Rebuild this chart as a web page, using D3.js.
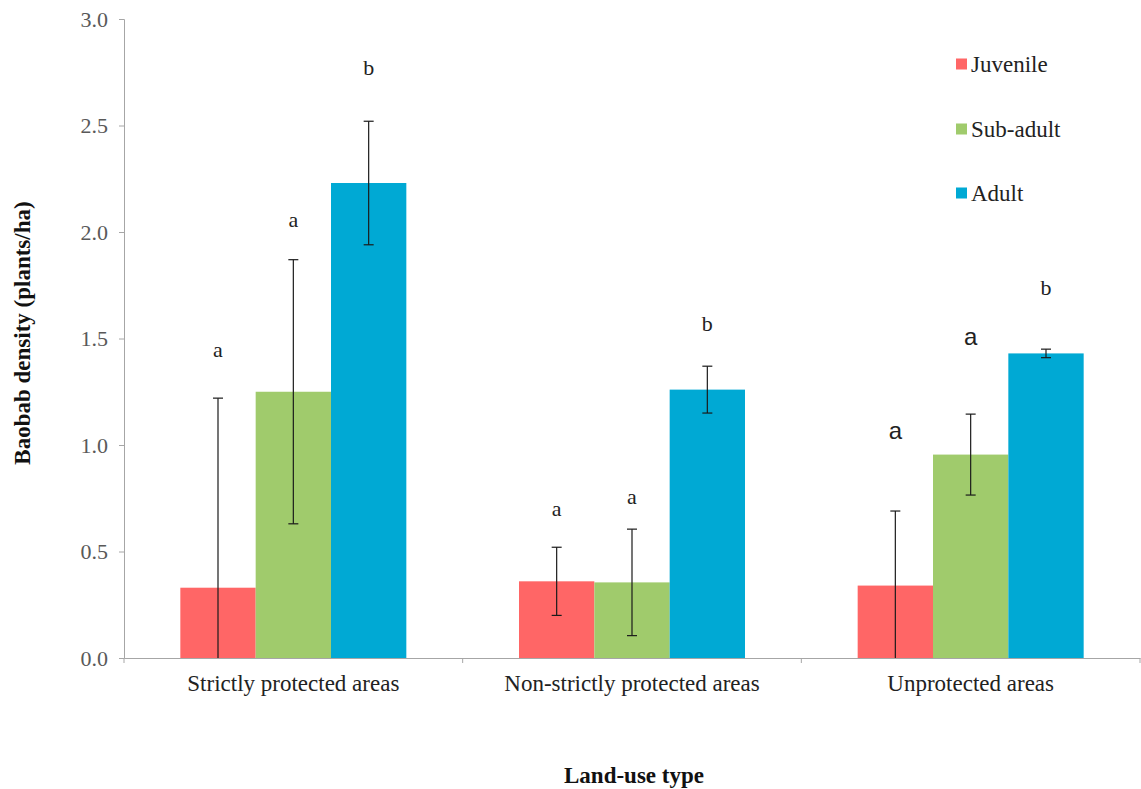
<!DOCTYPE html>
<html><head><meta charset="utf-8">
<script src="https://cdn.jsdelivr.net/npm/d3@7"></script>
<style>body{margin:0;background:#fff}svg{display:block}</style>
</head><body>
<svg id="c" width="1141" height="789"></svg>
<script>
const categories = ["Strictly protected areas", "Non-strictly protected areas", "Unprotected areas"];
const seriesNames = ["Juvenile", "Sub-adult", "Adult"];
const juvenile = [0.33, 0.36, 0.34];
const subAdult = [1.25, 0.355, 0.955];
const adult = [2.23, 1.26, 1.43];
const juvenileErr = [0.89, 0.16, 0.35];
const subAdultErr = [0.62, 0.25, 0.19];
const adultErr = [0.29, 0.11, 0.02];
const juvenileLetters = ["a", "a", "a"];
const subAdultLetters = ["a", "a", "a"];
const adultLetters = ["b", "b", "b"];
const juvenileLetterY = [1.45, 0.70, 1.07];
const subAdultLetterY = [2.06, 0.76, 1.51];
const adultLetterY = [2.77, 1.57, 1.74];
const yTicks = [0, 0.5, 1.0, 1.5, 2.0, 2.5, 3.0];
const colors = ["#FF6666", "#A0CB6C", "#00A9D4"];

const values = [juvenile, subAdult, adult];
const errs = [juvenileErr, subAdultErr, adultErr];
const letters = [juvenileLetters, subAdultLetters, adultLetters];
const letterY = [juvenileLetterY, subAdultLetterY, adultLetterY];

(function () {
const svg = d3.select("#c");
const mLeft = 124, mRight = 1140, mTop = 19, mBottom = 658;
const serif = "'Liberation Serif','Times New Roman',serif";

const x = d3.scaleBand().domain(categories).range([mLeft, mRight]).paddingInner(0).paddingOuter(0);
const xs = d3.scaleBand().domain(seriesNames).range([0, 226]);
const groupOffset = (x.bandwidth() - 226) / 2;
const y = d3.scaleLinear().domain([0, 3]).range([mBottom, mTop]);

// y axis
const yAxis = svg.append("g").attr("transform", `translate(${mLeft},0)`)
  .call(d3.axisLeft(y).tickValues(yTicks).tickFormat(d3.format(".1f")).tickSize(5).tickPadding(11));
yAxis.select(".domain").attr("stroke", "#a6a6a6");
yAxis.selectAll(".tick line").attr("stroke", "#a6a6a6");
yAxis.selectAll(".tick text").attr("font-family", serif).attr("font-size", 22).attr("fill", "#595959");

// x axis
const xAxis = svg.append("g").attr("transform", `translate(0,${mBottom})`)
  .call(d3.axisBottom(x).tickSize(0).tickPadding(17));
xAxis.select(".domain").attr("stroke", "#a6a6a6");
xAxis.selectAll(".tick text").attr("font-family", serif).attr("font-size", 23).attr("fill", "#222");
const bounds = [mLeft].concat(categories.map(c => x(c) + x.bandwidth()));
svg.append("g").selectAll("line").data(bounds).join("line")
  .attr("x1", d => d).attr("x2", d => d).attr("y1", mBottom).attr("y2", mBottom + 5)
  .attr("stroke", "#a6a6a6");

// bars
const g = svg.append("g");
values.forEach((arr, si) => {
  g.selectAll(null).data(arr).join("rect")
    .attr("x", (d, i) => x(categories[i]) + groupOffset + xs(seriesNames[si]))
    .attr("width", xs.bandwidth())
    .attr("y", d => y(d))
    .attr("height", d => y(0) - y(d))
    .attr("fill", colors[si]);
});

// error bars
values.forEach((arr, si) => {
  arr.forEach((v, i) => {
    const cx = x(categories[i]) + groupOffset + xs(seriesNames[si]) + xs.bandwidth() / 2;
    const hi = v + errs[si][i];
    const lo = Math.max(0, v - errs[si][i]);
    const eg = g.append("g").attr("stroke", "#1a1a1a").attr("stroke-width", 1.2);
    eg.append("line").attr("x1", cx).attr("x2", cx).attr("y1", y(hi)).attr("y2", y(lo));
    eg.append("line").attr("x1", cx - 5).attr("x2", cx + 5).attr("y1", y(hi)).attr("y2", y(hi));
    if (v - errs[si][i] > 0)
      eg.append("line").attr("x1", cx - 5).attr("x2", cx + 5).attr("y1", y(lo)).attr("y2", y(lo));
  });
});

// significance letters
letters.forEach((arr, si) => {
  arr.forEach((t, i) => {
    const cx = x(categories[i]) + groupOffset + xs(seriesNames[si]) + xs.bandwidth() / 2;
    const big = (i === 2 && si < 2);
    g.append("text").attr("x", cx).attr("y", y(letterY[si][i]))
      .attr("text-anchor", "middle").attr("dominant-baseline", "central")
      .attr("font-family", big ? "'Liberation Sans',Arial,sans-serif" : serif)
      .attr("font-size", big ? 24 : 22).attr("fill", "#222").text(t);
  });
});

// legend
const legY = [64, 129, 193];
const leg = svg.append("g");
seriesNames.forEach((n, i) => {
  leg.append("rect").attr("x", 956).attr("y", legY[i] - 5.5).attr("width", 11).attr("height", 11).attr("fill", colors[i]);
  leg.append("text").attr("x", 971).attr("y", legY[i]).attr("dominant-baseline", "central")
    .attr("font-family", serif).attr("font-size", 23).attr("fill", "#222").text(n);
});

// axis titles
svg.append("text").attr("transform", "translate(22,333) rotate(-90)")
  .attr("text-anchor", "middle").attr("dominant-baseline", "central")
  .attr("font-family", serif).attr("font-weight", "bold").attr("font-size", 23).attr("fill", "#111")
  .text("Baobab density (plants/ha)");
svg.append("text").attr("x", 634).attr("y", 775)
  .attr("text-anchor", "middle").attr("dominant-baseline", "central")
  .attr("font-family", serif).attr("font-weight", "bold").attr("font-size", 23).attr("fill", "#111")
  .text("Land-use type");
})();
</script>
</body></html>
